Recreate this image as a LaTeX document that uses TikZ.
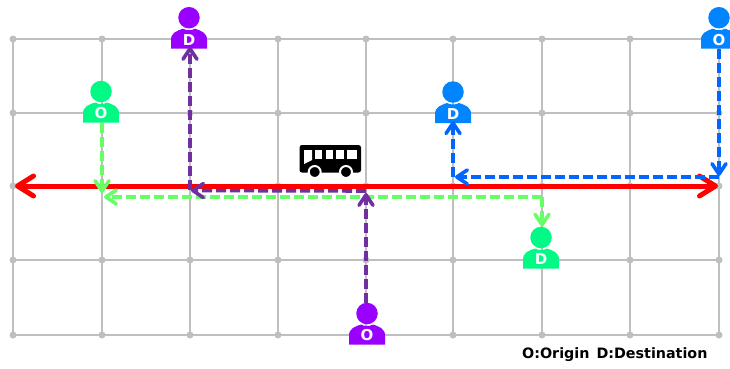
\documentclass[tikz,border=0pt]{standalone}
\usepackage{fontspec}
\setmainfont{DejaVu Sans}
\usetikzlibrary{arrows.meta}
\definecolor{gridc}{HTML}{BFBFBF}
\definecolor{pgreen}{HTML}{00FA85}
\definecolor{ppurple}{HTML}{9900FF}
\definecolor{pblue}{HTML}{0084FF}
\definecolor{agreen}{HTML}{66FF66}
\definecolor{apurple}{HTML}{7030A0}
\definecolor{ablue}{HTML}{0066FF}
\tikzset{
  gridline/.style={draw=gridc,line width=2.6pt},
  griddot/.style={circle,fill=gridc,inner sep=0pt,minimum size=7pt},
  redarrow/.style={draw=red,line width=5pt,line cap=round,{Straight Barb[length=16pt,width=20pt,round]}-{Straight Barb[length=16pt,width=20pt,round]}},
  ride/.style={line width=3.6pt,dash pattern=on 10pt off 4pt,-{Straight Barb[length=10.5pt,width=14pt,round]}},
  head/.style={circle,inner sep=0pt,minimum size=21.5pt,fill=#1},
  bodytext/.style={inner sep=0pt,minimum width=36pt,minimum height=18pt,text=white,font=\fontsize{15}{15}\selectfont\bfseries},
  busbody/.style={fill=black,rounded corners=2.5pt},
  buswin/.style={fill=white}
}
\newcommand{\person}[5]{% name, x, head y, colour, letter
  \node[head=#4] (#1h) at (#2,#3) {};
  \fill[#4] (#2-18,#3+31) -- (#2-18,#3+22) .. controls (#2-18,#3+15) and (#2-12,#3+13) .. (#2-6,#3+11) .. controls (#2-3,#3+13) and (#2+3,#3+13) .. (#2+6,#3+11) .. controls (#2+12,#3+13) and (#2+18,#3+15) .. (#2+18,#3+22) -- (#2+18,#3+31) -- cycle;
  \node[bodytext] (#1b) at (#2,#3+22) {#5};
}
\begin{document}
\begin{tikzpicture}[x=1pt,y=-1pt]
\clip (0,0) rectangle (730,368);
\fill[white] (0,0) rectangle (730,368);
% grid
\foreach \x in {13,102,190,278,366,453,542,630,719}
  \draw[gridline] (\x,39) -- (\x,335);
\foreach \y in {39,113,186,260,335}
  \draw[gridline] (13,\y) -- (719,\y);
\foreach \x in {13,102,190,278,366,453,542,630,719}
  \foreach \y in {39,113,186,260,335}
    \node[griddot] at (\x,\y) {};
% persons
\person{go}{101}{91.5}{pgreen}{O}
\person{pd}{189}{17.7}{ppurple}{D}
\person{bd}{453}{92}{pblue}{D}
\person{bo}{719}{17.7}{pblue}{O}
\person{gd}{541}{237.5}{pgreen}{D}
\person{po}{367}{313.5}{ppurple}{O}
% red line
\coordinate (redL) at (15,186);
\coordinate (redR) at (718,186);
\draw[redarrow] (redL) -- (redR);
% bus
\path[busbody] (299.5,145) rectangle (361,172.5);
\fill[buswin] (304,150) -- (312,150) -- (312,160) -- (304,164) -- cycle;
\fill[buswin] (315.3,150) rectangle (322.3,159.3);
\fill[buswin] (325.7,150) rectangle (333.3,159.3);
\fill[buswin] (336.3,150) rectangle (344,159.3);
\fill[buswin] (347.3,150) rectangle (357.3,159.3);
\node[circle,fill=black,draw=white,line width=2pt,inner sep=0pt,minimum size=12pt] (w1) at (314.7,172) {};
\node[circle,fill=black,draw=white,line width=2pt,inner sep=0pt,minimum size=12pt] (w2) at (346,172) {};
% green
\coordinate (gdrop) at (102,193);
\coordinate (gtipL) at (104,197);
\coordinate (gturn) at (542,197);
\draw[agreen,ride] (gob.south -| gdrop) -- (gdrop);
\draw[agreen,ride] (gturn) -- (gtipL);
\draw[agreen,ride] (gturn) -- (gturn |- gdh.north);
% purple
\coordinate (ptipB) at (366,193);
\coordinate (pstart) at (366,191);
\coordinate (ptipL) at (191,190.5);
\coordinate (pup) at (190,190);
\draw[apurple,ride] (poh.north -| ptipB) -- (ptipB);
\draw[apurple,ride] (pstart) -- (ptipL);
\draw[apurple,ride] (pup) -- ([yshift=2pt]pdb.south -| pup);
% blue
\coordinate (btipD) at (719,176);
\coordinate (bstart) at (719,177);
\coordinate (btipL) at (455,177);
\coordinate (bup) at (453,177);
\draw[ablue,ride] (bob.south) -- (btipD);
\draw[ablue,ride] (bstart) -- (btipL);
\draw[ablue,ride] (bup) -- ([yshift=2pt]bdb.south);
% legend
\node[anchor=base west,inner sep=0pt,font=\fontsize{14.3}{14.3}\selectfont\bfseries] (legend) at (522,358) {O:Origin\hspace{7pt}D:Destination};
\end{tikzpicture}
\end{document}
